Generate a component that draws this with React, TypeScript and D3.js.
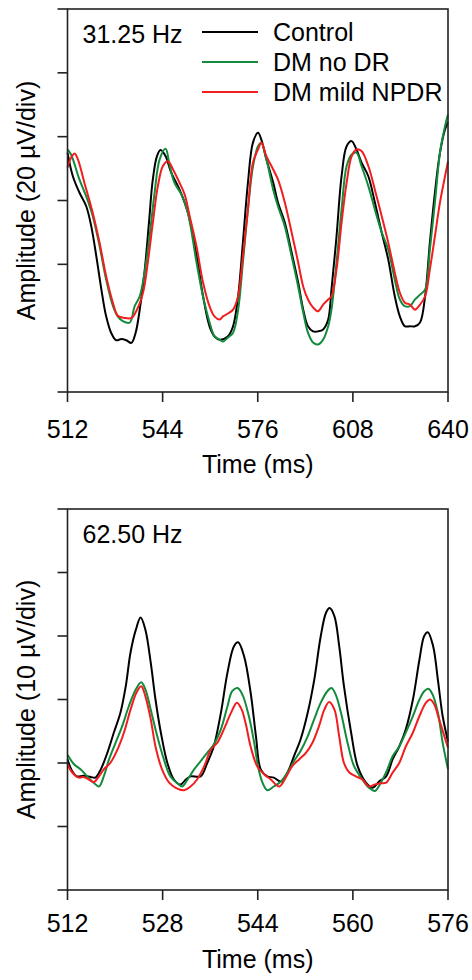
import React, { useEffect, useRef } from 'react';
import * as d3 from 'd3';

type Pt = [number, number];

// legend / series info
const seriesNames = ['Control', 'DM no DR', 'DM mild NPDR'];
const seriesColors = ['#000000', '#138a3c', '#f01e1e'];

// tick values
const timeTicks31 = [512, 544, 576, 608, 640];
const timeTicks62 = [512, 528, 544, 560, 576];
const ampTicks31 = [-60, -40, -20, 0, 20, 40, 60];
const ampTicks62 = [-30, -20, -10, 0, 10, 20, 30];

// 31.25 Hz flicker traces: [time ms, amplitude uV]
const ctrl31: Pt[] = [
  [512, 15.0], [513.8, 7.6], [516, 2.5], [518.3, -1.8], [520, -8.1], [521.7, -17.5], [523.4, -27.9],
  [525, -36.3], [526.7, -41.5], [528.4, -43.8], [530.1, -43.4], [531.8, -43.8], [533.5, -44.6],
  [534.9, -41.5], [536.3, -34.2], [538, -21.6], [539.4, -7], [540.7, 6.6], [542.1, 13.9], [543.3, 15.8],
  [545, 13.9], [546.9, 8.7], [549.7, 3.4], [552.5, -3.8], [555.4, -17], [557.6, -30], [559.8, -39.5],
  [561.5, -42.6], [563.2, -43.6], [566, -42.5], [567.7, -39.4], [569.4, -30], [571, -13.2], [572.7, 5.6],
  [574.4, 18.2], [576.1, 21.2], [577.2, 19.1], [578.9, 12.9], [581.2, 5.6], [582.8, -0.6], [585.1, -6.9],
  [587.4, -16.3], [589.6, -25.7], [591.3, -34.2], [592.9, -39.4], [594.6, -41], [596.3, -41], [598, -40.4],
  [599.7, -37.3], [600.8, -27.9], [602.5, -11.2], [604.2, 7.6], [605.9, 17], [607.6, 18.6], [609.2, 16],
  [610.9, 11.9], [613.2, 7.6], [615.4, -0.6], [617.7, -10], [619.9, -18.5], [622.1, -30], [623.8, -36.3],
  [625.5, -39.4], [627.2, -39.4], [628.9, -39.4], [630.6, -38.2], [632.3, -30], [633.9, -13.2],
  [635.6, 2.5], [637.3, 15], [639, 22.3], [640, 24.5],
];

const noDr31: Pt[] = [
  [512, 16], [513.2, 14.4], [516, 6.6], [518.3, 1.3], [520.5, -4.9], [522.8, -14.3], [525, -24.8],
  [527.3, -33.1], [528.9, -36.3], [530.6, -37.8], [532.9, -38.3], [534.6, -33.1], [536.3, -30],
  [537.9, -22.7], [539.6, -11.2], [541.3, 2.4], [543, 12.9], [545, 16.2], [546.4, 10.8], [548, 5.5],
  [550.3, 1.9], [552.5, -3.9], [555.4, -19.4], [557.6, -30.1], [559.8, -38.2], [561.5, -42.6],
  [563.2, -43.6], [564.3, -44.2], [566, -42.9], [567.7, -41.4], [569.4, -34.2], [571, -19.4],
  [572.7, -2.8], [574.4, 10.7], [576.1, 17], [577.2, 18.1], [578.9, 12.9], [581.2, 3.4], [582.8, -1.8],
  [585.1, -8.1], [587.4, -17.5], [589.6, -27], [591.3, -35.1], [592.9, -41.4], [594.6, -44.5],
  [596.3, -45.1], [598, -43.6], [599.7, -39.4], [600.8, -34.2], [602.5, -19.4], [604.2, -2.8],
  [605.9, 10.8], [607.6, 14.4], [609.2, 15], [610.9, 10.8], [613.2, 4.5], [615.4, -2.8], [617.7, -10],
  [619.9, -15.4], [622.1, -24.8], [623.8, -31], [625.5, -33.1], [627.2, -33.1], [628.9, -31],
  [630.6, -29.5], [632.3, -27.9], [633.9, -15.4], [635.6, -0.6], [637.3, 15], [639, 23.3], [640, 27],
];

const npdr31: Pt[] = [
  [512, 10.3], [513.2, 13.4], [514.4, 14.7], [515.5, 12.9], [517.7, 5.5], [520.5, -3.9], [522.8, -13.3],
  [525, -23.7], [527.3, -32.1], [528.9, -36.1], [531.2, -36.8], [533.5, -36.8], [535.1, -34.7],
  [537.4, -28.9], [539, -19.5], [540.7, -7], [542.4, 4.5], [544.1, 10.8], [545.8, 12.3], [547.5, 9.7],
  [549.7, 5.5], [551.4, 1.9], [553.1, -4.9], [555.4, -14.4], [557.6, -25.7], [559.8, -33.2],
  [561.5, -36.4], [563.2, -37.3], [564.3, -36.3], [566, -35.4], [567.7, -34.2], [569.4, -30],
  [571, -17.6], [572.7, -2.8], [574.4, 11.9], [576.1, 16], [577.2, 18.1], [578.9, 13.9], [581.2, 9.7],
  [582.8, 6.6], [585.1, -0.6], [587.4, -10], [589.6, -19.4], [591.3, -27], [592.9, -31], [594.6, -33.5],
  [596.3, -34.7], [598, -32.6], [599.7, -31], [600.8, -30], [602.5, -21.6], [604.2, -6.9], [605.9, 5.6],
  [607.6, 13.9], [609.2, 16], [610.9, 15.5], [613.2, 10.8], [615.4, 3.4], [617.7, -4.9], [619.9, -13.2],
  [622.1, -22.6], [623.8, -28.9], [625.5, -32], [627.2, -32.6], [628.9, -34.2], [630.6, -32.6],
  [632.3, -30], [633.9, -21.6], [635.6, -11.2], [637.3, -0.6], [639, 7.6], [640, 12.3],
];

// 62.50 Hz flicker traces
const ctrl62: Pt[] = [
  [512, -9.4], [512.8, -11.3], [513.6, -12.1], [514.7, -12], [515.9, -12.2], [516.7, -12.3], [517.6, -11],
  [518.7, -8.4], [519.8, -5.2], [520.9, -2.1], [521.8, 2.1], [522.6, 7.4], [523.5, 11], [524.3, 12.9],
  [525.1, 11], [526, 5.8], [526.8, 0], [527.7, -5.2], [528.8, -10], [529.9, -12.6], [531, -13.4],
  [531.9, -12.6], [532.7, -12.1], [534.4, -12.1], [535.5, -10], [536.6, -7.4], [537.8, -2.1], [538.9, 4.2],
  [540, 8.4], [540.7, 9], [541.7, 6.8], [542.8, 1.1], [543.7, -5.8], [544.5, -11], [545.6, -12.1],
  [546.7, -12.3], [547.9, -12.9], [549, -11.5], [550.1, -8.9], [551.2, -6.3], [552.4, -2.1], [553.5, 3.1],
  [554.6, 10], [555.5, 13.7], [556.1, 14.4], [556.9, 13.1], [557.7, 8.4], [558.5, 2.1], [559.7, -5.2],
  [560.8, -10.5], [562.2, -13.1], [563.3, -13.9], [564.4, -12.9], [565.6, -12.1], [566.7, -9.4],
  [567.8, -7.4], [568.9, -4.7], [570.1, 0], [571.2, 6.3], [572, 10], [572.6, 10.6], [573.5, 8.4],
  [574.3, 3.1], [575.1, -2.6], [576, -6.6],
];

const noDr62: Pt[] = [
  [512, -8.7], [513.1, -10.2], [514.2, -11], [515.3, -12.1], [516.4, -13.1], [517.3, -13.7], [518.1, -12.1],
  [519, -9.4], [520.1, -6.8], [521.2, -4.2], [522.3, -1.1], [523.5, 1.6], [524.4, 2.7], [525.1, 1.6],
  [526, -1.6], [527.1, -5.8], [528.2, -9.4], [529.3, -12.1], [530.5, -13.2], [531.3, -13.7], [532.2, -12.6],
  [533.3, -11], [534.4, -9.7], [535.5, -8.4], [536.6, -7.1], [537.8, -4.7], [538.9, -1.1], [539.7, 1.3],
  [540.6, 1.8], [541.4, 0.8], [542.5, -2.6], [543.4, -6.8], [544.1, -10.8], [544.8, -13.1], [545.6, -14.3],
  [546.7, -13.7], [547.9, -12.9], [549, -11.5], [550.1, -9.7], [551.2, -8.1], [552.4, -5.8], [553.5, -3.1],
  [554.6, -0.5], [555.7, 1.3], [556.4, 1.8], [557.1, 0.8], [558, -2.1], [559.1, -6.8], [560.2, -10.5],
  [561.6, -12.6], [562.7, -13.9], [563.7, -14.4], [564.7, -13.1], [565.8, -11], [566.7, -8.9], [567.8, -7.4],
  [568.9, -5.2], [570.1, -2.6], [571.2, 0], [572, 1.3], [572.7, 1.7], [573.4, 0.8], [574.3, -2.1],
  [575.1, -6.8], [576, -11],
];

const npdr62: Pt[] = [
  [512, -10.2], [512.8, -11.5], [513.9, -12.3], [514.7, -12.2], [515.6, -12.6], [516.4, -13], [517.3, -12.1],
  [518.1, -11], [519.2, -10], [520.4, -7.9], [521.5, -5.2], [522.6, -1.6], [523.6, 1.1], [524.4, 2.1],
  [525.1, 0.5], [526, -3.1], [526.8, -7.4], [527.9, -11], [529.1, -13.1], [530.2, -13.9], [531.6, -14.3],
  [532.7, -13.7], [533.8, -12.6], [535, -10.5], [536.1, -7.9], [537.2, -6.8], [538.3, -4.7], [539.5, -2.1],
  [540.5, -0.5], [541.3, -1.6], [542, -3.9], [542.8, -7.4], [543.9, -10.5], [545.1, -11.8], [546.2, -12.6],
  [547.6, -13.7], [548.7, -12.3], [549.8, -10.5], [551, -9.4], [552.1, -8.4], [553.2, -6.8], [554.3, -4.2],
  [555.2, -1.6], [556, -0.4], [556.9, -1.6], [557.7, -5.8], [558.5, -10], [559.4, -11.5], [560.5, -12.1],
  [561.6, -12.6], [562.7, -13.7], [563.6, -13.4], [564.7, -13.2], [565.6, -13.1], [566.7, -11.5],
  [567.8, -10], [568.9, -7.4], [570.1, -5.2], [571.2, -2.6], [572.3, -0.5], [573, 0], [573.7, -0.8],
  [574.5, -3.1], [575.4, -5.8], [576, -7.6],
];

const panels = [
  {
    title: '31.25 Hz', yLabel: 'Amplitude (20 \u00b5V/div)', xTicks: timeTicks31, yTicks: ampTicks31,
    series: [ctrl31, noDr31, npdr31], top: 9, bottom: 392, tickLabelY: 438, axisLabelY: 473, legend: true,
  },
  {
    title: '62.50 Hz', yLabel: 'Amplitude (10 \u00b5V/div)', xTicks: timeTicks62, yTicks: ampTicks62,
    series: [ctrl62, noDr62, npdr62], top: 509, bottom: 890, tickLabelY: 932, axisLabelY: 968, legend: false,
  },
];

const width = 472;
const height = 980;
const left = 67.5;
const right = 448;
const font = '"Liberation Sans", Arial, sans-serif';

function App() {
  const svgRef = useRef<SVGSVGElement>(null);
  useEffect(() => {
    const svg = d3.select(svgRef.current);
    svg.selectAll('*').remove();

    panels.forEach(p => {
      const g = svg.append('g');
      const x = d3
        .scaleLinear()
        .domain([p.xTicks[0], p.xTicks[p.xTicks.length - 1]])
        .range([left, right]);
      const y = d3
        .scaleLinear()
        .domain([p.yTicks[0], p.yTicks[p.yTicks.length - 1]])
        .range([p.bottom, p.top]);

      // traces
      const line = d3
        .line<Pt>()
        .curve(d3.curveCatmullRom.alpha(0.5))
        .x(d => x(d[0]))
        .y(d => y(d[1]));
      p.series.forEach((s, i) => {
        g.append('path')
          .datum(s)
          .attr('fill', 'none')
          .attr('stroke', seriesColors[i])
          .attr('stroke-width', 2)
          .attr('stroke-linejoin', 'round')
          .attr('d', line);
      });

      // frame
      g.append('rect')
        .attr('x', left)
        .attr('y', p.top)
        .attr('width', right - left)
        .attr('height', p.bottom - p.top)
        .attr('fill', 'none')
        .attr('stroke', '#222')
        .attr('stroke-width', 1.6);

      // y ticks (no labels)
      g.selectAll('.ytick')
        .data(p.yTicks)
        .enter()
        .append('line')
        .attr('x1', left - 10)
        .attr('x2', left)
        .attr('y1', d => y(d))
        .attr('y2', d => y(d))
        .attr('stroke', '#222')
        .attr('stroke-width', 1.6);

      // x ticks + labels
      g.selectAll('.xtick')
        .data(p.xTicks)
        .enter()
        .append('line')
        .attr('x1', d => x(d))
        .attr('x2', d => x(d))
        .attr('y1', p.bottom)
        .attr('y2', p.bottom + 10)
        .attr('stroke', '#222')
        .attr('stroke-width', 1.6);
      g.selectAll('.xlabel')
        .data(p.xTicks)
        .enter()
        .append('text')
        .attr('x', d => x(d))
        .attr('y', p.tickLabelY)
        .attr('text-anchor', 'middle')
        .style('font-family', font)
        .style('font-size', '25px')
        .text(d => String(d));

      g.append('text')
        .attr('x', (left + right) / 2)
        .attr('y', p.axisLabelY)
        .attr('text-anchor', 'middle')
        .style('font-family', font)
        .style('font-size', '25px')
        .text('Time (ms)');

      g.append('text')
        .attr('transform', 'translate(35,' + (p.top + p.bottom) / 2 + ') rotate(-90)')
        .attr('text-anchor', 'middle')
        .style('font-family', font)
        .style('font-size', '25px')
        .text(p.yLabel);

      g.append('text')
        .attr('x', left + 15)
        .attr('y', p.top + 34)
        .style('font-family', font)
        .style('font-size', '25px')
        .text(p.title);

      if (p.legend) {
        seriesNames.forEach((name, i) => {
          const ly = p.top + 23 + i * 30;
          g.append('line')
            .attr('x1', 202)
            .attr('x2', 258)
            .attr('y1', ly)
            .attr('y2', ly)
            .attr('stroke', seriesColors[i])
            .attr('stroke-width', 2);
          g.append('text')
            .attr('x', 273)
            .attr('y', ly + 8.5)
            .style('font-family', font)
            .style('font-size', '25px')
            .text(name);
        });
      }
    });
  }, []);

  return (
    <svg
      ref={svgRef}
      width={width}
      height={height}
      style={{ position: 'absolute', left: 0, top: 0, background: '#fff' }}
    />
  );
}

export default App;
